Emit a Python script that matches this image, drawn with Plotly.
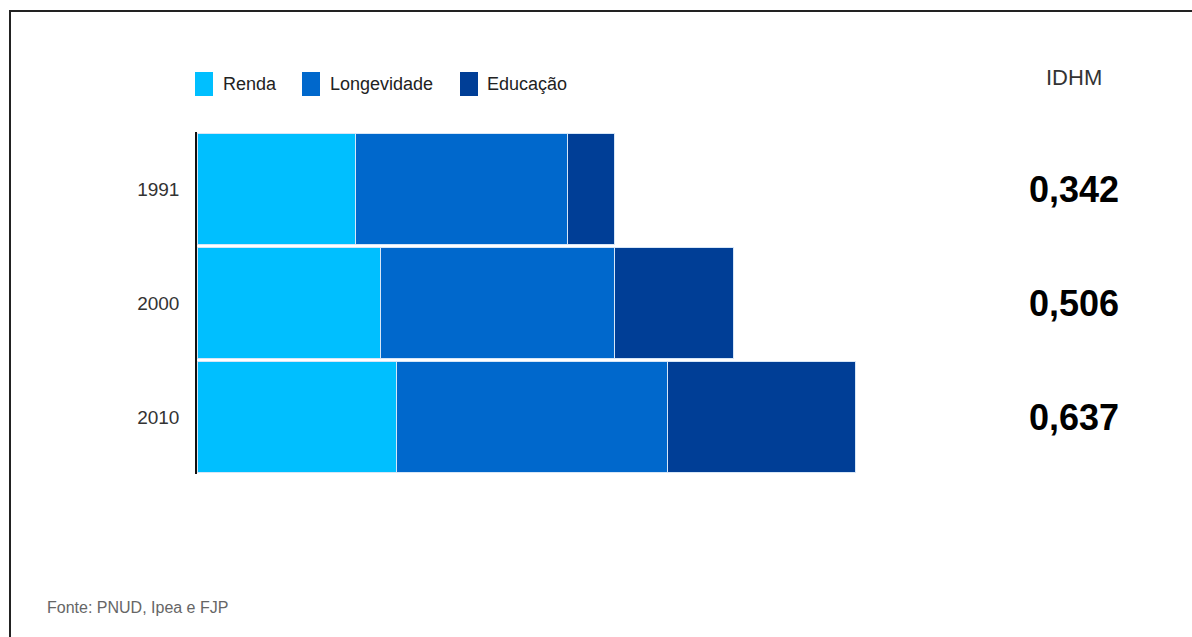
import plotly.graph_objects as go

# ---- data ----
years = ["1991", "2000", "2010"]
series_names = ["Renda", "Longevidade", "Educação"]
renda = [0.465, 0.541, 0.588]
longevidade = [0.626, 0.688, 0.797]
educacao = [0.137, 0.349, 0.551]
idhm = [0.342, 0.506, 0.637]
colors = ["#00BFFF", "#0068CC", "#003E96"]
source_text = "Fonte: PNUD, Ipea e FJP"

W, H = 1192, 637
L, R, T, B = 197, 145, 132, 163
PW, PH = W - L - R, H - T - B


def px(x):
    return (x - L) / PW


def py(y):
    return (H - B - y) / PH


FONT = "Liberation Sans, Arial, sans-serif"

fig = go.Figure()
for name, vals, col in zip(series_names, [renda, longevidade, educacao], colors):
    fig.add_trace(go.Bar(
        y=years, x=vals, name=name, orientation="h",
        marker=dict(color=col, line=dict(color="#D6E6F7", width=1)),
        showlegend=False,
    ))

fig.update_layout(
    width=W, height=H,
    barmode="stack", bargap=0.02,
    margin=dict(l=L, r=R, t=T, b=B, pad=0),
    paper_bgcolor="white", plot_bgcolor="white",
    xaxis=dict(range=[0, PW / 340.0], visible=False, fixedrange=True),
    yaxis=dict(
        type="category", categoryorder="array", categoryarray=years,
        range=[len(years) - 0.5, -0.5],
        showline=True, linecolor="#111", linewidth=1.5,
        showgrid=False, zeroline=False,
        ticks="outside", ticklen=12, tickcolor="rgba(0,0,0,0)",
        tickfont=dict(family=FONT, size=19, color="#333"),
        fixedrange=True,
    ),
)

# manual legend
sw_x = [195, 302, 460]
tx_x = [221, 328, 485]
for name, col, sx, tx in zip(series_names, colors, sw_x, tx_x):
    fig.add_shape(type="rect", xref="paper", yref="paper",
                  x0=px(sx), x1=px(sx + 18), y0=py(96), y1=py(72),
                  fillcolor=col, line=dict(width=0))
    fig.add_annotation(xref="paper", yref="paper", x=px(tx), y=py(84),
                       xanchor="left", yanchor="middle", showarrow=False,
                       text=name, font=dict(family=FONT, size=18, color="#222"))

# IDHM column
fig.add_annotation(xref="paper", yref="paper", x=px(1074), y=py(77),
                   xanchor="center", yanchor="middle", showarrow=False,
                   text="IDHM", font=dict(family=FONT, size=22, color="#333"))
for i, v in enumerate(idhm):
    fig.add_annotation(xref="paper", yref="y", x=px(1074), y=i,
                       xanchor="center", yanchor="middle", showarrow=False,
                       text="<b>" + f"{v:.3f}".replace(".", ",") + "</b>",
                       font=dict(family=FONT, size=36, color="#000"))

# source
fig.add_annotation(xref="paper", yref="paper", x=px(45), y=py(607),
                   xanchor="left", yanchor="middle", showarrow=False,
                   text=source_text, font=dict(family=FONT, size=16, color="#666"))

# frame (top and left edges visible)
fig.add_shape(type="path", xref="paper", yref="paper",
              path=f"M {px(10)},{py(700)} L {px(10)},{py(11)} L {px(1250)},{py(11)}",
              line=dict(color="#222", width=2))

fig.write_html("out.html", config={"displayModeBar": False},
               post_script="document.body.style.margin='0';")
